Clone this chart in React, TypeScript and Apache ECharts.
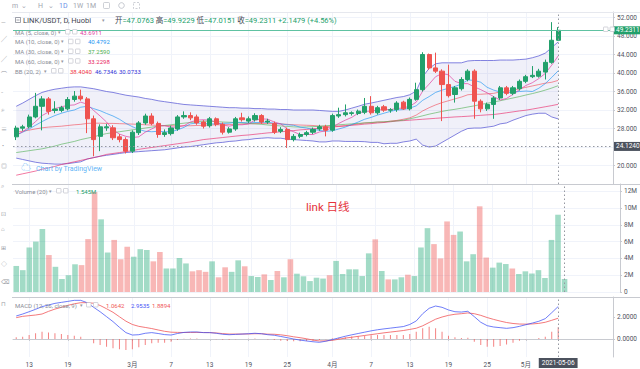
import { useEffect, useRef } from "react";
import * as echarts from "echarts";

// ---------- data ----------
const startDay = "2021-02-11";
const slotCount = 93; // 85 candles + empty space on the right

const opens = [
  26.2, 28.07, 28.36, 30.5, 32.8, 34.4, 31.9, 31.9, 32.25, 34.27,
  35.0, 34.4, 30.1, 26.3, 28.14, 28.14, 26.2, 25.6, 23.1, 27.1,
  29.2, 30.7, 29.1, 26.7, 26.9, 27.9, 30.5, 30.8, 30.5, 29.4,
  28.6, 30.1, 28.9, 27.2, 27.9, 30.3, 29.6, 29.9, 30.8, 29.4,
  29.1, 27.4, 27.8, 25.6, 26.3, 26.7, 27.2, 27.9, 28.36, 27.64,
  30.7, 31.0, 31.25, 31.25, 31.5, 32.8, 31.4, 32.7, 31.97, 32.1,
  33.7, 32.25, 34.3, 36.4, 44.0, 41.1, 40.4, 37.5, 35.35, 36.6,
  38.6, 40.4, 33.9, 32.25, 33.2, 34.6, 36.8, 35.6, 36.6, 38.2,
  39.2, 39.3, 40.2, 42.3, 47.0763,
];
const highs = [
  28.6, 28.8, 31.0, 35.7, 35.0, 34.8, 33.9, 32.9, 34.8, 36.1,
  36.4, 34.8, 30.8, 28.9, 29.0, 28.7, 26.8, 26.1, 27.6, 29.6,
  31.2, 31.3, 29.5, 27.8, 28.6, 30.9, 31.7, 31.5, 31.0, 29.8,
  30.5, 30.4, 29.3, 28.3, 30.5, 31.4, 30.6, 31.3, 31.1, 30.1,
  29.5, 28.3, 28.2, 26.8, 27.1, 27.5, 28.2, 28.8, 28.8, 31.2,
  32.5, 33.2, 31.7, 32.1, 34.6, 35.0, 32.9, 33.1, 32.4, 33.9,
  34.0, 34.7, 37.9, 44.5, 44.2, 44.4, 40.8, 41.8, 37.2, 39.1,
  40.8, 40.8, 34.3, 33.6, 35.0, 37.2, 37.2, 37.2, 38.6, 39.6,
  41.5, 40.9, 42.9, 51.0, 49.9229,
];
const lows = [
  25.5, 27.5, 28.0, 30.2, 27.6, 31.0, 31.3, 31.5, 31.9, 33.8,
  34.0, 27.0, 22.0, 23.1, 27.5, 25.5, 25.0, 22.6, 22.7, 26.6,
  28.8, 28.7, 26.0, 26.2, 26.5, 27.5, 30.1, 29.8, 28.8, 28.0,
  28.2, 28.5, 26.7, 26.9, 27.5, 29.5, 29.2, 29.5, 29.0, 29.0,
  26.8, 27.0, 23.8, 25.2, 25.9, 26.3, 26.8, 27.5, 26.3, 27.3,
  30.3, 30.6, 30.8, 30.9, 31.1, 31.0, 31.0, 31.6, 31.4, 31.6,
  32.0, 31.9, 34.0, 36.0, 40.7, 40.0, 29.6, 34.7, 33.6, 36.2,
  38.2, 30.1, 31.5, 31.8, 30.1, 34.2, 35.2, 35.2, 36.2, 37.8,
  38.9, 39.0, 38.6, 42.0, 47.0151,
];
const closes = [
  28.1, 28.36, 30.5, 32.8, 34.4, 31.7, 32.2, 32.5, 34.27, 35.0,
  34.4, 30.1, 25.6, 28.36, 28.36, 26.0, 25.6, 23.1, 27.2, 29.2,
  30.7, 29.1, 26.7, 27.1, 28.1, 30.5, 30.8, 30.3, 29.2, 28.5,
  30.1, 28.9, 27.2, 27.9, 30.1, 29.9, 30.1, 30.8, 29.4, 29.6,
  27.2, 27.8, 25.6, 26.3, 26.7, 27.1, 27.8, 28.36, 27.64, 30.8,
  31.0, 31.4, 31.4, 31.75, 32.8, 31.4, 32.5, 31.97, 32.05, 33.5,
  32.25, 34.3, 36.4, 44.0, 41.1, 40.4, 37.5, 35.1, 36.8, 38.6,
  40.4, 33.9, 32.25, 33.2, 34.6, 36.8, 35.6, 36.8, 38.2, 39.2,
  39.5, 40.4, 42.3, 47.0832, 49.2311,
];
// volume in millions
const volumes = [
  3.1, 2.6, 5.3, 6.0, 7.5, 4.4, 3.0, 1.55, 2.0, 3.3,
  3.2, 6.3, 11.9, 8.65, 4.7, 6.2, 3.9, 5.4, 4.2, 5.1,
  5.0, 3.65, 4.76, 2.8, 2.8, 4.05, 3.4, 2.46, 2.6, 2.4,
  3.65, 1.75, 2.94, 2.4, 3.77, 3.06, 1.9, 1.8, 2.1, 1.43,
  2.5, 1.75, 3.9, 2.18, 1.87, 1.3, 1.7, 1.6, 2.0, 3.7,
  2.14, 2.7, 2.7, 1.9, 4.6, 6.27, 2.5, 1.5, 1.5, 1.75,
  2.06, 1.9, 5.3, 7.6, 5.7, 4.0, 8.4, 6.8, 7.2, 3.65,
  4.5, 10.2, 4.1, 2.9, 3.5, 3.33, 2.8, 2.14, 2.46, 2.2,
  2.6, 1.67, 6.2, 9.2, 1.545,
];
const ma5 = [
  26.5, 27.3, 28.3, 29.5, 30.8, 31.55, 32.3, 32.7, 33.0, 33.1,
  33.7, 33.25, 31.9, 30.7, 29.4, 27.7, 26.8, 26.3, 26.05, 26.2,
  27.2, 27.9, 28.6, 28.6, 28.3, 28.3, 28.6, 29.4, 29.8, 29.9,
  29.8, 29.4, 28.8, 28.5, 28.8, 28.8, 29.0, 29.8, 30.1, 30.0,
  29.4, 29.0, 27.9, 27.3, 26.7, 26.7, 26.7, 27.25, 27.5, 28.3,
  29.1, 29.8, 30.4, 31.3, 31.7, 31.75, 32.0, 32.1, 32.1, 32.3,
  32.45, 32.8, 33.7, 36.1, 37.6, 39.2, 39.9, 39.6, 38.2, 37.7,
  37.7, 37.0, 36.4, 35.7, 34.9, 34.15, 34.5, 35.4, 36.4, 37.3,
  37.9, 38.8, 39.9, 41.7, 43.6911,
];
const ma10 = [
  26.6, 27.2, 27.9, 28.7, 29.5, 30.2, 30.8, 31.3, 31.7, 32.0,
  32.6, 32.8, 32.3, 31.85, 31.25, 30.7, 30.0, 29.1, 28.4, 27.8,
  27.4, 27.3, 27.4, 27.3, 27.3, 27.7, 28.25, 29.0, 29.2, 29.1,
  29.0, 29.0, 29.1, 29.15, 29.35, 29.3, 29.2, 29.3, 29.3, 29.4,
  29.1, 29.0, 28.8, 28.7, 28.3, 28.1, 27.8, 27.6, 27.4, 27.5,
  27.9, 28.3, 28.85, 29.4, 30.0, 30.4, 30.9, 31.3, 31.7, 32.0,
  32.1, 32.4, 32.9, 34.1, 34.9, 35.8, 36.3, 36.7, 37.1, 37.6,
  38.5, 38.4, 38.0, 36.9, 36.3, 35.9, 35.7, 35.9, 36.0, 36.1,
  36.0, 36.7, 37.7, 39.05, 40.4792,
];
const ma30 = [
  22.8, 23.0, 23.2, 23.4, 23.6, 23.9, 24.2, 24.6, 24.9, 25.2,
  25.6, 25.9, 26.2, 26.6, 26.9, 27.1, 27.3, 27.5, 27.7, 27.9,
  28.1, 28.3, 28.5, 28.65, 28.8, 29.0, 29.15, 29.3, 29.45, 29.6,
  29.55, 29.5, 29.4, 29.35, 29.3, 29.2, 29.1, 29.0, 28.9, 28.76,
  28.65, 28.55, 28.45, 28.35, 28.3, 28.35, 28.4, 28.5, 28.6, 28.68,
  28.8, 28.9, 29.0, 29.1, 29.2, 29.3, 29.4, 29.45, 29.55, 29.64,
  29.8, 30.1, 30.4, 30.75, 31.1, 31.4, 31.7, 31.95, 32.15, 32.38,
  32.65, 32.9, 33.2, 33.45, 33.74, 34.0, 34.3, 34.6, 34.9, 35.24,
  35.55, 35.9, 36.3, 36.75, 37.259,
];
const ma60 = [
  17.9, 18.2, 18.5, 18.8, 19.2, 19.5, 19.8, 20.2, 20.5, 20.8,
  21.1, 21.4, 21.7, 22.0, 22.4, 22.6, 22.8, 23.0, 23.2, 23.5,
  23.7, 23.9, 24.1, 24.3, 24.5, 24.7, 24.9, 25.1, 25.35, 25.6,
  25.75, 25.9, 26.05, 26.2, 26.35, 26.5, 26.6, 26.75, 26.9, 27.05,
  27.15, 27.3, 27.4, 27.55, 27.7, 27.8, 27.95, 28.05, 28.2, 28.3,
  28.45, 28.55, 28.7, 28.8, 28.95, 29.05, 29.2, 29.3, 29.45, 29.63,
  29.7, 29.8, 29.9, 30.0, 30.1, 30.2, 30.3, 30.4, 30.5, 30.57,
  30.65, 30.75, 30.85, 30.95, 31.03, 31.2, 31.4, 31.6, 31.8, 31.96,
  32.2, 32.45, 32.7, 32.95, 33.2298,
];
const bbBasis = [
  27.2, 27.4, 27.65, 27.9, 28.15, 28.3, 28.4, 28.5, 28.65, 28.8,
  28.9, 29.1, 29.15, 29.15, 29.1, 29.1, 29.05, 29.0, 28.95, 28.9,
  28.8, 28.75, 28.65, 28.6, 28.6, 28.6, 28.6, 28.6, 28.65, 28.7,
  28.75, 28.8, 28.8, 28.85, 28.9, 28.95, 29.0, 29.05, 29.1, 29.1,
  29.05, 29.0, 28.9, 28.8, 28.75, 28.7, 28.65, 28.5, 28.45, 28.5,
  28.5, 28.6, 28.8, 29.0, 29.2, 29.25, 29.4, 29.4, 29.6, 29.75,
  30.0, 30.3, 30.9, 31.8, 32.5, 33.1, 33.6, 34.0, 34.4, 34.8,
  35.3, 35.4, 35.4, 35.5, 35.6, 35.9, 36.0, 36.3, 36.6, 36.9,
  37.2, 37.5, 37.8, 38.0, 38.404,
];
const bbUpper = [
  32.8, 33.5, 34.3, 35.1, 35.8, 36.2, 36.5, 36.7, 36.9, 37.0,
  37.0, 36.8, 36.6, 36.3, 36.0, 35.8, 35.5, 35.2, 35.0, 34.8,
  34.5, 34.3, 34.0, 33.8, 33.6, 33.4, 33.2, 33.1, 33.0, 32.9,
  32.8, 32.7, 32.6, 32.5, 32.5, 32.4, 32.4, 32.3, 32.3, 32.2,
  32.2, 32.1, 32.1, 32.0, 32.0, 32.0, 32.0, 31.9, 31.8, 31.7,
  31.7, 32.0, 32.4, 32.8, 33.25, 33.5, 33.8, 34.1, 34.4, 34.7,
  34.9, 35.3, 36.1, 39.2, 41.0, 42.0, 42.2, 42.2, 42.2, 42.2,
  42.6, 42.7, 42.7, 42.7, 42.7, 42.8, 42.8, 42.8, 42.9, 43.0,
  43.3, 43.7, 44.3, 45.5, 46.7346,
];
const bbLower = [
  21.6, 21.3, 21.0, 20.7, 20.5, 20.4, 20.3, 20.3, 20.4, 20.6,
  20.8, 21.4, 21.7, 22.0, 22.2, 22.4, 22.6, 22.8, 22.9, 23.0,
  23.1, 23.2, 23.3, 23.4, 23.6, 23.8, 24.0, 24.1, 24.3, 24.5,
  24.7, 24.9, 25.0, 25.2, 25.3, 25.5, 25.6, 25.8, 25.9, 26.0,
  25.9, 25.9, 25.7, 25.6, 25.5, 25.4, 25.3, 25.1, 25.1, 25.3,
  25.3, 25.2, 25.2, 25.2, 25.15, 25.0, 25.0, 24.7, 24.8, 24.8,
  25.1, 25.3, 25.7, 24.4, 24.0, 24.2, 25.0, 25.8, 26.6, 27.4,
  28.0, 28.1, 28.1, 28.3, 28.5, 29.0, 29.2, 29.8, 30.3, 30.8,
  31.1, 31.3, 31.3, 30.5, 30.0733,
];
const macdLine = [
  2.09, 2.27, 2.48, 2.7, 2.94, 3.09, 3.24, 3.33, 3.42, 3.515,
  3.515, 3.3, 2.88, 2.48, 2.03, 1.58, 1.06, 0.58, 0.36, 0.39,
  0.52, 0.58, 0.5, 0.4, 0.36, 0.5, 0.6, 0.64, 0.64, 0.58,
  0.58, 0.52, 0.43, 0.39, 0.42, 0.45, 0.48, 0.52, 0.48, 0.39,
  0.34, 0.23, 0.12, 0.0, -0.1, -0.18, -0.25, -0.3, -0.2, -0.05,
  0.1, 0.25, 0.38, 0.5, 0.62, 0.74, 0.84, 0.92, 0.99, 1.06,
  1.13, 1.32, 1.64, 2.3, 2.79, 3.0, 2.88, 2.64, 2.48, 2.45,
  2.52, 2.03, 1.52, 1.21, 1.09, 1.03, 0.97, 1.03, 1.15, 1.3,
  1.45, 1.61, 1.85, 2.39, 2.9535,
];
const signalLine = [
  1.94, 2.06, 2.12, 2.18, 2.27, 2.51, 2.72, 2.88, 3.06, 3.2,
  3.3, 3.3, 3.25, 3.05, 2.75, 2.43, 2.02, 1.62, 1.32, 1.15,
  1.05, 0.95, 0.82, 0.7, 0.62, 0.6, 0.59, 0.59, 0.6, 0.59,
  0.58, 0.55, 0.49, 0.45, 0.45, 0.45, 0.46, 0.48, 0.48, 0.44,
  0.43, 0.38, 0.3, 0.2, 0.12, 0.02, -0.1, -0.18, -0.17, -0.12,
  -0.02, 0.08, 0.16, 0.24, 0.32, 0.4, 0.48, 0.56, 0.63, 0.7,
  0.77, 0.87, 0.98, 1.2, 1.5, 1.8, 2.0, 2.15, 2.25, 2.3,
  2.37, 2.3, 2.15, 1.95, 1.78, 1.63, 1.5, 1.41, 1.36, 1.35,
  1.37, 1.42, 1.52, 1.7, 1.8894,
];
const macdHist = [
  0.15, 0.21, 0.36, 0.52, 0.67, 0.58, 0.52, 0.45, 0.36, 0.3,
  0.21, 0.0, -0.39, -0.55, -0.7, -0.85, -0.94, -1.0, -0.94, -0.76,
  -0.55, -0.39, -0.33, -0.33, -0.24, -0.09, 0.03, 0.05, 0.04, 0.0,
  0.0, -0.03, -0.06, -0.06, -0.03, 0.0, 0.02, 0.04, 0.0, -0.05,
  -0.1, -0.15, -0.18, -0.2, -0.2, -0.18, -0.15, -0.1, -0.03, 0.07,
  0.12, 0.17, 0.22, 0.26, 0.3, 0.33, 0.36, 0.36, 0.36, 0.36,
  0.36, 0.45, 0.67, 0.97, 1.12, 0.97, 0.67, 0.3, 0.15, 0.1,
  0.12, -0.24, -0.55, -0.7, -0.7, -0.64, -0.5, -0.33, -0.15, -0.03,
  0.0, 0.1, 0.2, 0.67, 1.0642,
];
// time-axis tick labels: [candle index, label]
const timeTicks: [number, string][] = [
  [2, "13"], [8, "19"], [18, "3月"], [24, "7"], [30, "13"], [36, "19"], [42, "25"],
  [49, "4月"], [55, "7"], [61, "13"], [67, "19"], [73, "25"], [79, "5月"],
];
const priceAxisMin = 16;
const priceAxisStep = 4;
const volumeAxisStep = 2;
const macdTickValues = [0, 2];
const crossIndex = 84;
const crossPrice = 24.124;
const symbolTitle = "LINK/USDT, D, Huobi";
const annotation = "link 日线";

// ---------- styles ----------
const FONT = 'Roboto, "Noto Sans CJK SC", sans-serif';
const UP = "#22a06b";
const DOWN = "#ef5350";
const VOL_UP = "rgba(34,170,120,0.42)";
const VOL_DOWN = "rgba(239,83,80,0.42)";
const C_MA5 = "#e040a0";
const C_MA10 = "#2196f3";
const C_MA30 = "#4caf50";
const C_MA60 = "#e91e63";
const C_BASIS = "#f23645";
const C_BAND = "#5b5bd6";
const C_MACD = "#3f51f5";
const C_SIGNAL = "#f0575a";
const C_HIST = "#f05a5a";
const AXIS_TXT = "#50535e";
const GRID_LINE = "#f0f3fa";
const SEP = "#c8cad0";

const X0 = 13;
const XR = 19; // right offset -> axis at x = 621

function buildCategories(): string[] {
  const base = new Date(startDay + "T00:00:00Z").getTime();
  const out: string[] = [];
  for (let i = 0; i < slotCount; i++) {
    out.push(new Date(base + i * 86400000).toISOString().slice(0, 10));
  }
  return out;
}

function txt(x: number, y: number, text: string, fill: string, size: number, extra: any = {}) {
  return {
    type: "text",
    x,
    y,
    silent: true,
    z: 50,
    style: { text, fill, fontSize: size, fontFamily: FONT, verticalAlign: "middle", align: "left", ...extra },
  };
}
function iconBox(x: number, y: number) {
  return {
    type: "rect",
    silent: true,
    z: 50,
    shape: { x: x + 0.5, y: y - 2.5, width: 4.5, height: 4.5, r: 0.5 },
    style: { fill: "#fff", stroke: "#b8bbc4", lineWidth: 0.6 },
  };
}

export default function App() {
  const ref = useRef<HTMLDivElement>(null);

  useEffect(() => {
    document.body.style.margin = "0";
    const el = ref.current;
    if (!el) return;
    const chart = echarts.init(el, undefined, { renderer: "svg", width: 640, height: 369 });

    const cats = buildCategories();
    const tickMap = new Map<number, string>(timeTicks);
    const isTick = (i: number) => tickMap.has(i);

    const candleData = opens.map((o, i) => [o, closes[i], lows[i], highs[i]]);
    const volData = volumes.map((v, i) => ({
      value: v,
      itemStyle: { color: closes[i] >= opens[i] ? VOL_UP : VOL_DOWN },
    }));
    const bandWidth = bbUpper.map((u, i) => +(u - bbLower[i]).toFixed(4));
    const last = closes.length - 1;
    const lastClose = closes[last];
    const change = lastClose - closes[last - 1];
    const changePct = (change / closes[last - 1]) * 100;

    const gridMarks = {
      silent: true,
      symbol: ["none", "none"],
      z: 0,
      label: { show: false },
      lineStyle: { color: GRID_LINE, type: "solid", width: 1 },
      data: timeTicks.map(([i]) => ({ xAxis: cats[i] })),
    };
    const crossV = { xAxis: cats[crossIndex], lineStyle: { color: "#9598a1", type: [1.5, 2.5], width: 1 } };

    const mkX = (gridIndex: number, bottom: boolean) => ({
      type: "category",
      gridIndex,
      data: cats,
      boundaryGap: true,
      axisLine: { show: bottom, lineStyle: { color: SEP, width: 1 } },
      axisTick: { show: bottom, interval: (i: number) => isTick(i), alignWithLabel: true, length: 2, lineStyle: { color: SEP } },
      axisLabel: {
        show: bottom,
        interval: (i: number) => isTick(i),
        formatter: (_v: string, i: number) => tickMap.get(i) ?? "",
        fontSize: 6.5,
        color: AXIS_TXT,
        margin: 5,
        fontFamily: FONT,
      },
      splitLine: { show: false },
    });

    const yCommon = {
      position: "right",
      axisLine: { show: true, lineStyle: { color: SEP, width: 1 } },
      axisTick: { show: true, length: 2, lineStyle: { color: SEP } },
      splitLine: { show: true, lineStyle: { color: GRID_LINE, width: 1 } },
    };
    const labelCommon = { fontSize: 6.5, color: AXIS_TXT, margin: 4, fontFamily: FONT };

    const lineS = (data: number[], color: string, opacity = 0.85, z = 3) => ({
      type: "line",
      xAxisIndex: 0,
      yAxisIndex: 0,
      data,
      symbol: "none",
      silent: true,
      z,
      lineStyle: { color, width: 1, opacity },
    });

    const graphic: any[] = [
      // top toolbar
      txt(12, 6, "m", "#a3a6af", 7),
      txt(21, 6, "⌄", "#a3a6af", 7),
      txt(38, 6, "H", "#a3a6af", 7),
      txt(48, 6, "⌄", "#a3a6af", 7),
      txt(59, 6, "1D", "#6b8fe8", 7),
      txt(73, 6, "1W", "#a3a6af", 7),
      txt(86, 6, "1M", "#a3a6af", 7),
      { type: "rect", silent: true, z: 50, shape: { x: 103.5, y: 2.5, width: 6, height: 6, r: 1 }, style: { fill: "none", stroke: "#b8bbc4", lineWidth: 0.7 } },
      { type: "circle", silent: true, z: 50, shape: { cx: 121.5, cy: 5.5, r: 2.8 }, style: { fill: "none", stroke: "#b8bbc4", lineWidth: 0.8 } },
      { type: "rect", silent: true, z: 50, shape: { x: 133.5, y: 2.5, width: 6, height: 6 }, style: { fill: "none", stroke: "#b8bbc4", lineWidth: 0.7, lineDash: [2, 1.5] } },
      // left toolbar glyphs
      txt(1, 21, "—", "#9598a1", 6),
      txt(1, 38, "╱", "#9598a1", 6),
      txt(1, 58, "╱", "#9598a1", 6),
      txt(1, 73, "⌒", "#9598a1", 6),
      txt(1, 92, "⁻", "#9598a1", 6),
      txt(1, 110, "⌕", "#9598a1", 7),
      txt(1, 128, "≡", "#9598a1", 6),
      txt(2, 145, "•", "#9598a1", 6),
      txt(1, 165, "◎", "#9598a1", 6),
      txt(1, 185, "⌕", "#9598a1", 6),
      txt(1, 213, "⊡", "#9598a1", 6),
      txt(1, 228, "⌂", "#9598a1", 6),
      txt(1, 247, "⊞", "#9598a1", 6),
      txt(1, 263, "◇", "#9598a1", 6),
      txt(1, 281, "⌫", "#9598a1", 6),
      txt(1, 303, "⊓", "#9598a1", 6),
      // separators
      { type: "line", silent: true, z: 40, shape: { x1: 12, y1: 12.5, x2: 640, y2: 12.5 }, style: { stroke: "#e6e8ee", lineWidth: 1 } },
      { type: "line", silent: true, z: 40, shape: { x1: 12, y1: 184.5, x2: 640, y2: 184.5 }, style: { stroke: SEP, lineWidth: 1 } },
      { type: "line", silent: true, z: 40, shape: { x1: 12, y1: 297.5, x2: 640, y2: 297.5 }, style: { stroke: SEP, lineWidth: 1 } },
      // main legend
      { type: "rect", silent: true, z: 50, shape: { x: 15.5, y: 17.5, width: 5, height: 5 }, style: { fill: "none", stroke: "#787b86", lineWidth: 0.7 } },
      { type: "line", silent: true, z: 50, shape: { x1: 16.5, y1: 20, x2: 19.5, y2: 20 }, style: { stroke: "#787b86", lineWidth: 0.7 } },
      txt(23, 20, symbolTitle, "#434651", 7.5),
      txt(102, 20, "▾", "#9598a1", 5),
      {
        type: "text",
        x: 115,
        y: 20,
        silent: true,
        z: 50,
        style: {
          text:
            `{l|开}{v|=${opens[last].toFixed(4)}} {l|高}{v|=${highs[last].toFixed(4)}} ` +
            `{l|低}{v|=${lows[last].toFixed(4)}} {l|收}{v|=${lastClose.toFixed(4)}} ` +
            `{v|+${change.toFixed(4)} (+${changePct.toFixed(2)}%)}`,
          fontSize: 7.5,
          fontFamily: FONT,
          verticalAlign: "middle",
          rich: {
            l: { fill: "#434651", fontSize: 7.5, fontFamily: FONT },
            v: { fill: UP, fontSize: 7.5, fontFamily: FONT },
          },
        },
      },
      txt(15, 32, "MA (5, close, 0)", "#8a8d96", 6),
      txt(58, 32, "▾", "#9598a1", 4.5),
      iconBox(65, 32), iconBox(72, 32),
      txt(80, 32, ma5[last].toFixed(4), C_MA5, 6),
      txt(15, 41.7, "MA (10, close, 0)", "#8a8d96", 6),
      txt(61, 41.7, "▾", "#9598a1", 4.5),
      iconBox(68, 41.7), iconBox(75, 41.7),
      txt(88, 41.7, ma10[last].toFixed(4), C_MA10, 6),
      txt(15, 51.5, "MA (30, close, 0)", "#8a8d96", 6),
      txt(61, 51.5, "▾", "#9598a1", 4.5),
      iconBox(68, 51.5), iconBox(75, 51.5),
      txt(88, 51.5, ma30[last].toFixed(4), C_MA30, 6),
      txt(15, 61.2, "MA (60, close, 0)", "#8a8d96", 6),
      txt(61, 61.2, "▾", "#9598a1", 4.5),
      iconBox(68, 61.2), iconBox(75, 61.2),
      txt(88, 61.2, ma60[last].toFixed(4), C_MA60, 6),
      txt(15, 71, "BB (20, 2)", "#8a8d96", 6),
      txt(44, 71, "▾", "#9598a1", 4.5),
      iconBox(51, 71), iconBox(58, 71),
      txt(70, 71, bbBasis[last].toFixed(4), C_BASIS, 6),
      txt(95, 71, bbUpper[last].toFixed(4), "#3434d8", 6),
      txt(119, 71, bbLower[last].toFixed(4), "#3434d8", 6),
      // watermark
      txt(21, 167.5, "☁", "#64b5f6", 10),
      txt(36, 168.5, "Chart by TradingView", "#64b5f6", 7),
      // icons at price line
      iconBox(603, 29.5), iconBox(609.5, 29.5),
      // volume legend
      txt(15, 191, "Volume (20)", "#8a8d96", 6),
      txt(49, 191, "▾", "#9598a1", 4.5),
      iconBox(56, 191), iconBox(63, 191),
      txt(76, 191, volumes[last].toFixed(3) + "M", UP, 6),
      // annotation
      txt(306, 207, annotation, "#e5323b", 11.5),
      // MACD legend
      txt(15, 305, "MACD (12, 26, close, 9)", "#8a8d96", 6),
      txt(80, 305, "▾", "#9598a1", 4.5),
      iconBox(86, 305), iconBox(93, 305),
      txt(106, 305, macdHist[last].toFixed(4), C_HIST, 6),
      txt(131, 305, macdLine[last].toFixed(4), C_MACD, 6),
      txt(152, 305, signalLine[last].toFixed(4), C_SIGNAL, 6),
    ];

    const option: any = {
      animation: false,
      backgroundColor: "#ffffff",
      textStyle: { fontFamily: FONT },
      grid: [
        { left: X0, right: XR, top: 12, height: 172 },
        { left: X0, right: XR, top: 184, height: 108 },
        { left: X0, right: XR, top: 297, height: 60 },
      ],
      xAxis: [mkX(0, false), mkX(1, false), mkX(2, true)],
      yAxis: [
        {
          ...yCommon,
          type: "value",
          gridIndex: 0,
          min: priceAxisMin,
          max: priceAxisMin + 172 / 4.625,
          interval: priceAxisStep,
          axisLabel: {
            ...labelCommon,
            showMinLabel: false,
            showMaxLabel: false,
            // the crosshair price tag covers the tick label next to it
            formatter: (v: number) => (Math.abs(v - crossPrice) < 2 ? "" : v.toFixed(3)),
          },
        },
        {
          ...yCommon,
          type: "value",
          gridIndex: 1,
          min: 0,
          max: 108 / 8.4,
          interval: volumeAxisStep,
          axisLabel: { ...labelCommon, showMaxLabel: false, formatter: (v: number) => (v === 0 ? "0" : v + "M") },
        },
        {
          ...yCommon,
          type: "value",
          gridIndex: 2,
          min: -18 / 11,
          max: 42 / 11,
          splitLine: { show: false },
          axisTick: { show: true, length: 2, lineStyle: { color: SEP }, customValues: macdTickValues },
          axisLabel: { ...labelCommon, customValues: macdTickValues, formatter: (v: number) => v.toFixed(4) },
        },
      ],
      series: [
        // BB band fill (stacked)
        {
          type: "line", xAxisIndex: 0, yAxisIndex: 0, data: bbLower, stack: "bb", symbol: "none", silent: true, z: 1,
          lineStyle: { opacity: 0 }, markLine: gridMarks,
        },
        {
          type: "line", xAxisIndex: 0, yAxisIndex: 0, data: bandWidth, stack: "bb", symbol: "none", silent: true, z: 1,
          lineStyle: { opacity: 0 }, areaStyle: { color: "rgba(40,40,170,0.10)" },
        },
        lineS(bbUpper, C_BAND, 0.75, 2),
        lineS(bbLower, C_BAND, 0.75, 2),
        lineS(bbBasis, C_BASIS, 0.55, 2),
        lineS(ma60, C_MA60, 0.6),
        lineS(ma30, C_MA30, 0.6),
        lineS(ma10, C_MA10, 0.65),
        lineS(ma5, C_MA5, 0.7),
        {
          type: "candlestick",
          xAxisIndex: 0,
          yAxisIndex: 0,
          data: candleData,
          barWidth: "72%",
          z: 4,
          itemStyle: { color: UP, color0: DOWN, borderColor: UP, borderColor0: DOWN, borderWidth: 1 },
          markLine: {
            silent: true,
            symbol: ["none", "none"],
            z: 6,
            data: [
              {
                yAxis: lastClose,
                lineStyle: { color: "#5fc2a2", type: "solid", width: 1 },
                label: {
                  show: true, position: "end", distance: 1, formatter: lastClose.toFixed(4),
                  backgroundColor: UP, color: "#fff", fontSize: 6.5, padding: [1, 2, 0.5, 2], fontFamily: FONT,
                },
              },
              {
                yAxis: crossPrice,
                lineStyle: { color: "#9598a1", type: [1.5, 2.5], width: 1 },
                label: {
                  show: true, position: "end", distance: 1, formatter: crossPrice.toFixed(4),
                  backgroundColor: "#4c525e", color: "#fff", fontSize: 6.5, padding: [1.5, 2, 1, 2], fontFamily: FONT,
                },
              },
              { ...crossV, label: { show: false } },
            ],
          },
        },
        // volume
        {
          type: "line", xAxisIndex: 1, yAxisIndex: 1, data: volumes, symbol: "none", silent: true, z: 0,
          lineStyle: { opacity: 0 }, markLine: gridMarks,
        },
        {
          type: "bar",
          xAxisIndex: 1,
          yAxisIndex: 1,
          data: volData,
          barWidth: "86%",
          silent: true,
          z: 2,
          markLine: { silent: true, symbol: ["none", "none"], z: 6, label: { show: false }, data: [crossV] },
        },
        // MACD
        {
          type: "line", xAxisIndex: 2, yAxisIndex: 2, data: macdLine, symbol: "none", silent: true, z: 0,
          lineStyle: { opacity: 0 }, markLine: gridMarks,
        },
        {
          type: "bar",
          xAxisIndex: 2,
          yAxisIndex: 2,
          data: macdHist,
          barWidth: 1,
          silent: true,
          z: 2,
          itemStyle: { color: C_HIST, opacity: 0.75 },
        },
        {
          type: "line", xAxisIndex: 2, yAxisIndex: 2, data: signalLine, symbol: "none", silent: true, z: 3,
          lineStyle: { color: C_SIGNAL, width: 1, opacity: 0.8 },
        },
        {
          type: "line", xAxisIndex: 2, yAxisIndex: 2, data: macdLine, symbol: "none", silent: true, z: 3,
          lineStyle: { color: C_MACD, width: 1, opacity: 0.75 },
          markLine: {
            silent: true,
            symbol: ["none", "none"],
            z: 6,
            data: [
              {
                ...crossV,
                label: {
                  show: true, position: "start", distance: 1, formatter: cats[crossIndex],
                  backgroundColor: "#4c525e", color: "#fff", fontSize: 6.5, padding: [2, 3, 1.5, 3], fontFamily: FONT,
                },
              },
            ],
          },
        },
      ],
      graphic,
    };

    chart.setOption(option);
    return () => chart.dispose();
  }, []);

  return <div ref={ref} style={{ width: 640, height: 369 }} />;
}
